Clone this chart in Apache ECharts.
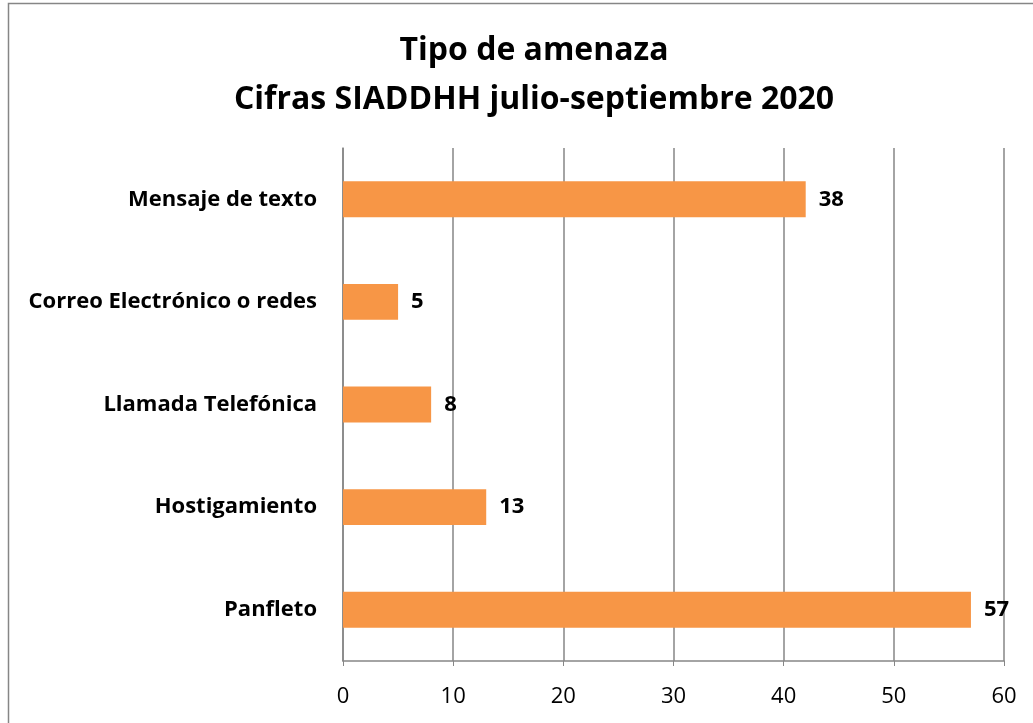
<!DOCTYPE html>
<html><head><meta charset="utf-8">
<script src="https://cdn.jsdelivr.net/npm/echarts@6/dist/echarts.min.js"></script>
<style>html,body{margin:0;padding:0;background:#fff}#c{width:1033px;height:723px}</style>
</head><body><div id="c"></div>
<script>
const categories = ['Panfleto', 'Hostigamiento', 'Llamada Telefónica', 'Correo Electrónico o redes', 'Mensaje de texto'];
const barValues = [57, 13, 8, 5, 42];
const labelValues = ['57', '13', '8', '5', '38'];
const xTicks = [0, 10, 20, 30, 40, 50, 60];
const titleLines = ['Tipo de amenaza', 'Cifras SIADDHH julio-septiembre 2020'];

const FONT = '"Open Sans", sans-serif';
const chart = echarts.init(document.getElementById('c'), null, {renderer: 'canvas'});
chart.setOption({
  animation: false,
  backgroundColor: '#fff',
  graphic: [{
    type: 'rect', shape: {x: 8.5, y: 3.5, width: 1040, height: 740},
    style: {fill: 'none', stroke: '#868686', lineWidth: 1.5}, z: -1
  }],
  title: {
    text: titleLines.join('\n'),
    left: 529, top: 21, textAlign: 'center',
    textStyle: {fontFamily: FONT, fontSize: 32, fontWeight: 'bold', color: '#000', lineHeight: 49}
  },
  grid: {left: 343, right: 29, top: 148, bottom: 62, containLabel: false},
  xAxis: {
    type: 'value', min: xTicks[0], max: xTicks[xTicks.length - 1], interval: 10,
    axisLine: {show: true, lineStyle: {color: '#868686', width: 1.5}},
    axisTick: {show: true, length: 5, lineStyle: {color: '#868686'}},
    splitLine: {show: true, lineStyle: {color: '#868686', width: 1.5}},
    axisLabel: {fontFamily: FONT, fontSize: 22, color: '#000', margin: 25}
  },
  yAxis: {
    type: 'category', data: categories,
    axisLine: {show: true, lineStyle: {color: '#868686', width: 1.5}},
    axisTick: {show: false},
    axisLabel: {fontFamily: FONT, fontSize: 22, fontWeight: 'bold', color: '#000', margin: 26}
  },
  series: [{
    type: 'bar', data: barValues, barWidth: '35%',
    itemStyle: {color: '#F79646'},
    label: {
      show: true, position: 'right', distance: 13,
      fontFamily: FONT, fontSize: 22, fontWeight: 'bold', color: '#000',
      formatter: p => labelValues[p.dataIndex]
    }
  }]
});
</script></body></html>
